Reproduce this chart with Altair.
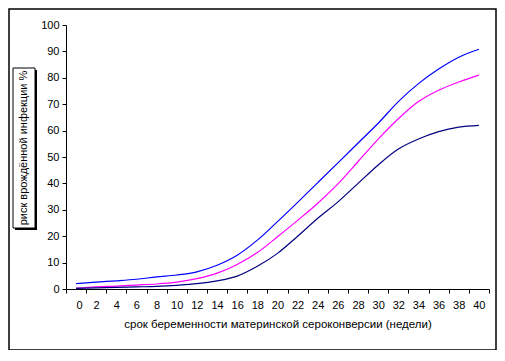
import altair as alt
import pandas as pd

weeks = [0, 2, 4, 6, 8, 10, 12, 14, 16, 18, 20, 22, 24, 26, 28, 30, 32, 34, 36, 38, 40]
upper = [2.0, 2.6, 3.1, 3.7, 4.6, 5.3, 6.5, 9.0, 12.8, 18.5, 25.5, 32.8, 40.3, 47.8, 55.3, 62.8, 71.0, 77.8, 83.3, 87.8, 90.8]
mean = [0.3, 0.8, 1.1, 1.5, 1.9, 2.6, 3.9, 6.0, 9.3, 13.8, 19.8, 26.0, 32.5, 39.8, 48.3, 56.8, 64.5, 71.0, 75.3, 78.4, 81.0]
lower = [0.2, 0.4, 0.6, 0.8, 1.0, 1.4, 2.0, 3.1, 4.9, 8.6, 13.5, 20.0, 26.8, 33.0, 40.0, 47.0, 53.0, 56.8, 59.6, 61.3, 62.0]
series_names = ["upper", "mean", "lower"]
series_colors = ["#0000FF", "#FF00FF", "#000080"]
y_ticks = [0, 10, 20, 30, 40, 50, 60, 70, 80, 90, 100]
x_title = "срок беременности материнской сероконверсии (недели)"
y_title = "риск врождённой инфекции %"

rows = []
for name, vals in zip(series_names, [upper, mean, lower]):
    for w, v in zip(weeks, vals):
        rows.append({"week": w, "value": v, "series": name})
df = pd.DataFrame(rows)

# category boundaries (ticks sit between the labelled categories)
x_tick_positions = [w - 1 for w in weeks] + [weeks[-1] + 1]

FONT = "Liberation Sans"

lines = alt.Chart(df).mark_line(strokeWidth=1.2, interpolate="monotone").encode(
    x=alt.X("week:Q",
            scale=alt.Scale(domain=[-1, 41], nice=False, zero=False),
            axis=alt.Axis(values=x_tick_positions,
                          labelExpr="datum.value >= 40 ? '' : format(datum.value + 1, 'd')",
                          labelOffset=10, tickSize=4, labelPadding=6,
                          grid=False, title=x_title, titlePadding=8,
                          labelFontSize=11, titleFontSize=11.5,
                          titleFontWeight="normal")),
    y=alt.Y("value:Q",
            scale=alt.Scale(domain=[0, 100], nice=False),
            axis=alt.Axis(values=y_ticks, tickSize=4, labelPadding=3,
                          grid=False, title=None, labelFontSize=11)),
    color=alt.Color("series:N",
                    scale=alt.Scale(domain=series_names, range=series_colors),
                    legend=None),
)

one = pd.DataFrame({"a": [0]})

border = alt.Chart(one).mark_rect(filled=False, stroke="black", strokeWidth=1.5).encode(
    x=alt.value(-57), x2=alt.value(430), y=alt.value(-16), y2=alt.value(325))

shadow = alt.Chart(one).mark_rect(fill="black").encode(
    x=alt.value(-51), x2=alt.value(-29), y=alt.value(45), y2=alt.value(205))
box = alt.Chart(one).mark_rect(fill="white", stroke="black", strokeWidth=1).encode(
    x=alt.value(-53), x2=alt.value(-31), y=alt.value(43), y2=alt.value(203))
ytext = alt.Chart(one).mark_text(angle=270, font=FONT, fontSize=11, color="black",
                                 align="center", baseline="middle").encode(
    x=alt.value(-42), y=alt.value(123), text=alt.value(y_title))

chart = alt.layer(border, shadow, box, ytext, lines).properties(
    width=423, height=264,
    padding={"left": 58, "top": 17, "right": 8, "bottom": 61},
    autosize=alt.AutoSizeParams(type="none"),
).configure_view(stroke=None).configure_axis(
    labelFont=FONT, titleFont=FONT, labelColor="black", titleColor="black",
    domainColor="black", tickColor="black", domainWidth=1, tickWidth=1,
)

chart.save("out.html", embed_options={"renderer": "svg", "actions": False})
